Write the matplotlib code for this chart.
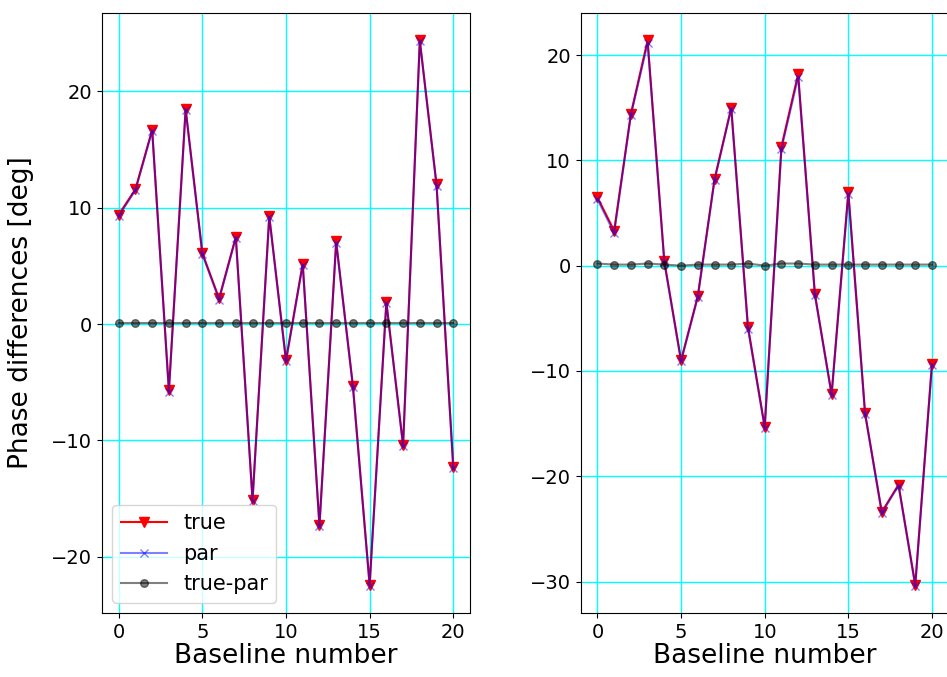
"""
Phase differences per baseline: true vs. parametric fit, two panels.
"""
import numpy as np
import matplotlib
matplotlib.use("Agg")
import matplotlib.pyplot as plt

baselines = np.arange(21)

# left panel
true_left = [9.4, 11.6, 16.7, -5.7, 18.5, 6.1, 2.2, 7.5, -15.1, 9.3, -3.1,
             5.2, -17.3, 7.1, -5.3, -22.4, 1.9, -10.4, 24.4, 12.0, -12.3]
par_left = [9.3, 11.5, 16.6, -5.8, 18.4, 6.0, 2.1, 7.4, -15.2, 9.2, -3.2,
            5.1, -17.4, 7.0, -5.4, -22.5, 1.8, -10.5, 24.3, 11.9, -12.4]
diff_left = [0.1, 0.1, 0.1, 0.1, 0.1, 0.1, 0.1, 0.1, 0.1, 0.1, 0.1,
             0.1, 0.1, 0.1, 0.1, 0.1, 0.1, 0.1, 0.1, 0.1, 0.1]

# right panel
true_right = [6.5, 3.3, 14.4, 21.4, 0.4, -9.0, -2.9, 8.2, 15.0, -5.8, -15.3,
              11.3, 18.2, -2.7, -12.2, 7.0, -14.0, -23.4, -20.8, -30.3, -9.3]
par_right = [6.3, 3.1, 14.3, 21.1, 0.3, -9.1, -3.0, 8.1, 14.9, -6.0, -15.4,
             11.1, 17.9, -2.8, -12.3, 6.8, -14.1, -23.5, -20.9, -30.4, -9.4]
diff_right = [0.2, 0.1, 0.1, 0.2, 0.1, 0.0, 0.1, 0.1, 0.1, 0.2, 0.0,
              0.2, 0.2, 0.1, 0.1, 0.1, 0.1, 0.1, 0.1, 0.1, 0.1]

fig = plt.figure(figsize=(9.47, 6.77), dpi=100)
ax1 = fig.add_axes([0.1077, 0.0945, 0.3886, 0.8863])
# right panel runs off the right edge, as in the cropped original
ax2 = fig.add_axes([0.6132, 0.0945, 0.3886, 0.8863])


def draw(ax, t, p, d, legend=False):
    ax.plot(baselines, t, color="red", marker="v", markersize=7, lw=1.5, label="true")
    ax.plot(baselines, p, color="blue", marker="x", markersize=6, lw=1.5, alpha=0.5, label="par")
    ax.plot(baselines, d, color="black", marker="o", markersize=5.5, lw=1.5, alpha=0.5, label="true-par")
    ax.grid(True, color="cyan", lw=1)
    ax.set_axisbelow(True)
    ax.set_xticks([0, 5, 10, 15, 20])
    ax.tick_params(labelsize=14)
    ax.set_xlabel("Baseline number", fontsize=19, labelpad=1)
    if legend:
        ax.legend(loc="lower left", fontsize=15, handlelength=2.2)


draw(ax1, true_left, par_left, diff_left, legend=True)
ax1.set_yticks([-20, -10, 0, 10, 20])
ax1.set_ylabel("Phase differences [deg]", fontsize=19)
ax1.yaxis.set_label_coords(-0.185, 0.5)

draw(ax2, true_right, par_right, diff_right)
ax2.set_yticks([-30, -20, -10, 0, 10, 20])
ax2.spines["right"].set_visible(False)

fig.savefig("out.png", dpi=100)
